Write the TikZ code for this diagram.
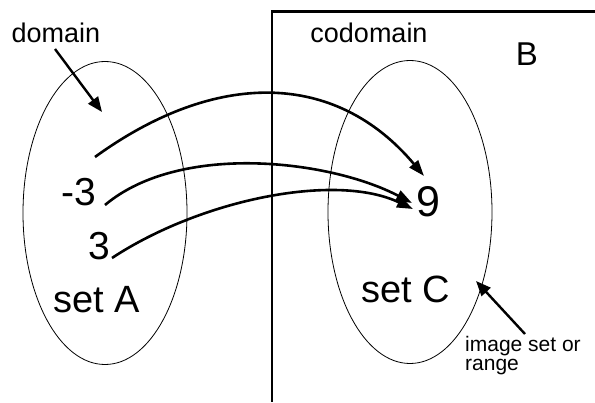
\documentclass[tikz,border=0pt]{standalone}
\usepackage{fontspec}
\setmainfont{Liberation Sans}
\usetikzlibrary{arrows.meta,positioning,shapes.geometric}

\begin{document}
\begin{tikzpicture}[
  x=1pt, y=-1pt,
  lbl/.style={anchor=base, inner sep=0pt},
  word/.style={lbl, font=\fontsize{27}{30}\selectfont},
  num/.style={lbl, font=\fontsize{39}{42}\selectfont},
  setname/.style={lbl, font=\fontsize{38}{42}\selectfont},
  note/.style={anchor=base west, inner sep=0pt, align=left, font=\fontsize{21}{19}\selectfont},
  setshape/.style={draw, ellipse, line width=0.8pt, minimum width=164pt, minimum height=303pt, inner sep=0pt},
  arr/.style={-{Triangle[length=16pt,width=11pt]}, line width=2.6pt},
  pointer/.style={-{Triangle[length=15pt,width=12pt]}, line width=2.4pt}
]
  \useasboundingbox (0,0) rectangle (595,403);
  % the two sets
  \node[setshape] (setA) at (105,213) {};
  \node[setshape] (setC) at (410,212) {};
  % frame of B
  \draw[line width=2.6pt] (272,402) -- (272,11.5) -- (595,11.5);
  % labels
  \node[word] (domain) at (56,43) {domain};
  \node[word] (codomain) at (369,43) {codomain};
  \node[lbl, font=\fontsize{33}{36}\selectfont] (B) at (527,66) {B};
  \node[num] (minus3) at (79,206) {-3};
  \node[num] (plus3) at (99,260) {3};
  \node[setname] (nameA) at (97,313) {set A};
  \node[lbl, font=\fontsize{43}{46}\selectfont] (nine) at (428,217) {9};
  \node[setname] (nameC) at (406,303) {set C};
  \node[note] (image) at (465,371) {image set or\\range};
  % ends of the mapping arrows
  \coordinate (x0) at (95,157);
  \coordinate (x1) at (105,205);
  \coordinate (x2) at (112,258);
  \coordinate (y0) at (424,176);
  \coordinate (y1) at (412,203);
  \coordinate (y2) at (413,209);
  \coordinate (domtail) at (55,49);
  \coordinate (domtip) at (102,112);
  \coordinate (imtail) at (525,334);
  \coordinate (imtip) at (476,281);
  \draw[arr] (x0) .. controls (215,70) and (335,70) .. (y0);
  \draw[arr] (x1) .. controls (180,142) and (330,160) .. (y1);
  \draw[arr] (x2) .. controls (200,200) and (335,172) .. (y2);
  \draw[pointer] (domtail) -- (domtip);
  \draw[pointer] (imtail) -- (imtip);
\end{tikzpicture}
\end{document}
